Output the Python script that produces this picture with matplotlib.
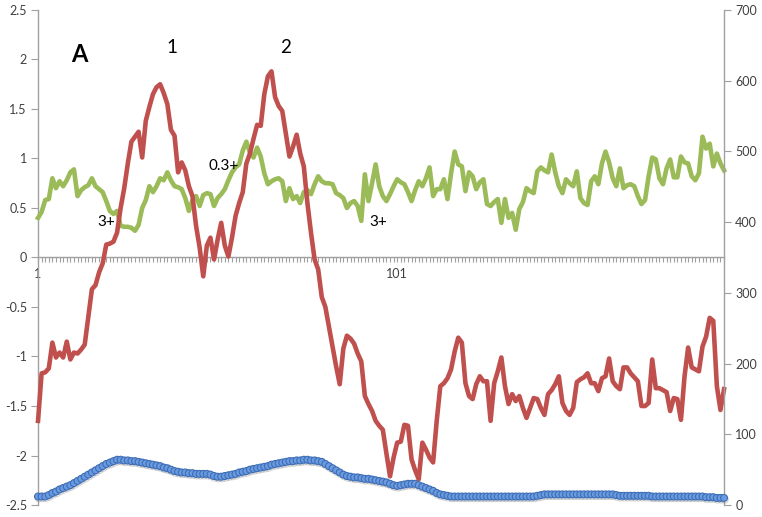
import matplotlib
matplotlib.use("Agg")
import matplotlib.pyplot as plt
import matplotlib.patheffects as pe
import numpy as np

plt.rcParams['font.family'] = ['Lato', 'DejaVu Sans']

red = [
    -1.65, -1.17, -1.16, -1.12, -0.86, -1.01, -0.96, -1.01, -0.85, -1.03,
    -0.96, -0.97, -0.93, -0.88, -0.60, -0.32, -0.28, -0.15, -0.06, 0.13,
    0.14, 0.16, 0.25, 0.50, 0.70, 0.95, 1.17, 1.22, 1.27, 1.01,
    1.38, 1.52, 1.65, 1.72, 1.75, 1.66, 1.55, 1.29, 1.23, 0.86,
    0.96, 0.88, 0.72, 0.62, 0.32, 0.10, -0.19, 0.12, 0.20, -0.02,
    0.18, 0.35, 0.12, 0.01, 0.20, 0.42, 0.55, 0.66, 0.95, 1.05,
    1.20, 1.34, 1.33, 1.65, 1.83, 1.88, 1.62, 1.53, 1.48, 1.25,
    1.02, 1.12, 1.24, 1.05, 0.92, 0.55, 0.25, -0.02, -0.12, -0.40,
    -0.50, -0.70, -0.90, -1.10, -1.28, -0.92, -0.79, -0.82, -0.87, -0.97,
    -1.05, -1.40, -1.48, -1.55, -1.65, -1.70, -1.74, -1.98, -2.21, -2.02,
    -1.87, -1.86, -1.69, -1.70, -2.04, -2.15, -2.24, -1.87, -1.94, -2.02,
    -2.07, -1.65, -1.30, -1.27, -1.22, -1.13, -0.95, -0.81, -0.86, -1.27,
    -1.40, -1.43, -1.28, -1.20, -1.25, -1.25, -1.65, -1.27, -1.15, -1.01,
    -1.30, -1.48, -1.38, -1.45, -1.40, -1.52, -1.62, -1.52, -1.42, -1.43,
    -1.52, -1.59, -1.38, -1.34, -1.28, -1.20, -1.47, -1.55, -1.59, -1.52,
    -1.26, -1.23, -1.21, -1.17, -1.27, -1.27, -1.35, -1.22, -1.20, -1.02,
    -1.25, -1.30, -1.33, -1.11, -1.11, -1.17, -1.21, -1.25, -1.50, -1.50,
    -1.47, -1.03, -1.32, -1.32, -1.34, -1.36, -1.55, -1.42, -1.43, -1.64,
    -1.20, -0.91, -1.11, -1.13, -1.15, -0.90, -0.80, -0.61, -0.64, -1.30,
    -1.54, -1.33,
]

green = [
    0.40, 0.46, 0.58, 0.59, 0.80, 0.70, 0.77, 0.72, 0.78, 0.86,
    0.89, 0.62, 0.68, 0.71, 0.73, 0.80, 0.72, 0.69, 0.66, 0.57,
    0.47, 0.44, 0.47, 0.32, 0.31, 0.31, 0.30, 0.27, 0.33, 0.50,
    0.58, 0.72, 0.66, 0.72, 0.80, 0.78, 0.86, 0.78, 0.72, 0.71,
    0.69, 0.60, 0.47, 0.58, 0.62, 0.52, 0.63, 0.65, 0.64, 0.52,
    0.60, 0.64, 0.69, 0.78, 0.86, 0.91, 0.94, 1.08, 1.17, 1.06,
    1.01, 1.11, 1.02, 0.85, 0.74, 0.77, 0.79, 0.80, 0.77, 0.57,
    0.70, 0.59, 0.62, 0.55, 0.66, 0.68, 0.64, 0.74, 0.82, 0.77,
    0.75, 0.75, 0.74, 0.65, 0.63, 0.60, 0.50, 0.55, 0.57, 0.52,
    0.37, 0.84, 0.57, 0.75, 0.94, 0.72, 0.62, 0.57, 0.64, 0.72,
    0.79, 0.76, 0.74, 0.66, 0.57, 0.68, 0.77, 0.72, 0.80, 0.91,
    0.62, 0.69, 0.69, 0.79, 0.59, 0.85, 1.07, 0.94, 0.92, 0.67,
    0.86, 0.82, 0.69, 0.76, 0.79, 0.54, 0.52, 0.56, 0.59, 0.35,
    0.59, 0.40, 0.45, 0.28, 0.49, 0.56, 0.70, 0.67, 0.65, 0.87,
    0.91, 0.88, 0.86, 1.04, 0.86, 0.72, 0.65, 0.79, 0.75, 0.72,
    0.87, 0.60, 0.55, 0.53, 0.77, 0.82, 0.74, 0.95, 1.07, 0.96,
    0.80, 0.72, 0.90, 0.70, 0.73, 0.74, 0.72, 0.62, 0.54, 0.58,
    0.82, 1.01, 0.99, 0.80, 0.74, 0.90, 0.99, 0.81, 0.81, 1.02,
    0.96, 0.95, 0.82, 0.78, 0.85, 1.22, 1.10, 1.15, 0.92, 1.05,
    0.95, 0.88,
]

blue = [
    12, 12, 12, 14, 17, 19, 22, 24, 26, 28,
    31, 34, 37, 40, 43, 46, 49, 52, 55, 58,
    60, 62, 64, 64, 63, 63, 62, 62, 61, 60,
    59, 58, 57, 56, 55, 53, 52, 50, 48, 47,
    46, 46, 45, 45, 44, 44, 44, 44, 43, 41,
    40, 40, 41, 42, 43, 44, 46, 47, 48, 50,
    51, 52, 53, 54, 55, 57, 58, 59, 60, 61,
    62, 62, 63, 63, 64, 64, 63, 63, 62, 61,
    58, 55, 52, 49, 46, 43, 41, 40, 39, 39,
    38, 37, 37, 36, 35, 34, 33, 32, 30, 28,
    27, 28, 29, 30, 30, 30, 28, 26, 24, 22,
    20, 17, 15, 14, 13, 12, 12, 12, 12, 12,
    12, 12, 12, 12, 12, 12, 12, 12, 12, 12,
    12, 12, 12, 12, 12, 12, 12, 12, 12, 13,
    14, 15, 15, 15, 15, 15, 15, 15, 15, 15,
    15, 15, 15, 15, 15, 15, 15, 15, 15, 15,
    15, 14, 13, 13, 13, 13, 13, 13, 13, 13,
    13, 12, 12, 12, 12, 12, 12, 12, 12, 12,
    12, 12, 12, 12, 12, 12, 11, 11, 11, 10,
    10, 10,
]

x_labels = {0: "1", 100: "101"}
left_ticks = [-2.5, -2, -1.5, -1, -0.5, 0, 0.5, 1, 1.5, 2, 2.5]
right_ticks = [0, 100, 200, 300, 400, 500, 600, 700]

annotations = [
    ("A", 11.4, 2.05, 17, "bold"),
    ("1", 37.2, 2.12, 13.5, "normal"),
    ("2", 68.8, 2.12, 13.5, "normal"),
    ("3+", 19.1, 0.36, 11, "normal"),
    ("0.3+", 51.8, 0.92, 11, "normal"),
    ("3+", 94.6, 0.36, 11, "normal"),
]

n = len(red)
x = np.arange(n)

axis_col = '#a0a0a0'
text_col = '#404040'

fig = plt.figure(figsize=(7.62, 5.17), dpi=100)
ax = fig.add_axes([0.0499, 0.0232, 0.9003, 0.9575])
ax2 = ax.twinx()

ax.plot(x, green, color='#9BBB59', lw=3.3, solid_joinstyle='round', zorder=3, clip_on=False)
ax.plot(x, red, color='#C0504D', lw=3.3, solid_joinstyle='round', zorder=4, clip_on=False)

ax2.plot(x, blue, color='#4A7EBB', lw=1.5, marker='o', ms=5.0, mfc='#6A9BE0',
         mec='#3D6DB5', mew=0.8, zorder=5, clip_on=False,
         path_effects=[pe.SimpleLineShadow(offset=(0.5, -1.2), shadow_color='#707070', alpha=0.3),
                       pe.Normal()])

ax.set_xlim(0, n - 1)
ax.set_ylim(-2.5, 2.5)
ax2.set_ylim(0, 700)

ax.set_yticks(left_ticks)
ax.set_yticklabels([f"{t:g}" for t in left_ticks])
ax2.set_yticks(right_ticks)
ax2.set_yticklabels([str(t) for t in right_ticks])

ax.set_xticks(list(x_labels.keys()))
ax.set_xticklabels(list(x_labels.values()))
ax.set_xticks(x, minor=True)

for a in (ax, ax2):
    for s in a.spines.values():
        s.set_color(axis_col)
        s.set_linewidth(1.0)
    a.spines['top'].set_visible(False)

ax.spines['bottom'].set_position(('data', 0))
ax.spines['right'].set_visible(False)
ax2.spines['left'].set_visible(False)
ax2.spines['bottom'].set_visible(False)

ax.tick_params(axis='x', which='both', direction='out', length=3.5, width=0.8,
               color=axis_col, labelsize=9, labelcolor=text_col, pad=4)
ax.tick_params(axis='y', direction='out', length=5, width=0.8, color=axis_col,
               labelsize=9, labelcolor=text_col, pad=3)
ax2.tick_params(axis='y', direction='out', length=5, width=0.8, color=axis_col,
                labelsize=9, labelcolor=text_col, pad=3)

ax.patch.set_visible(False)

for txt, xi, yi, fs, fw in annotations:
    ax.text(xi, yi, txt, fontsize=fs, fontweight=fw, color='black',
            ha='center', va='center', zorder=10)

fig.savefig('out.png', dpi=100)
